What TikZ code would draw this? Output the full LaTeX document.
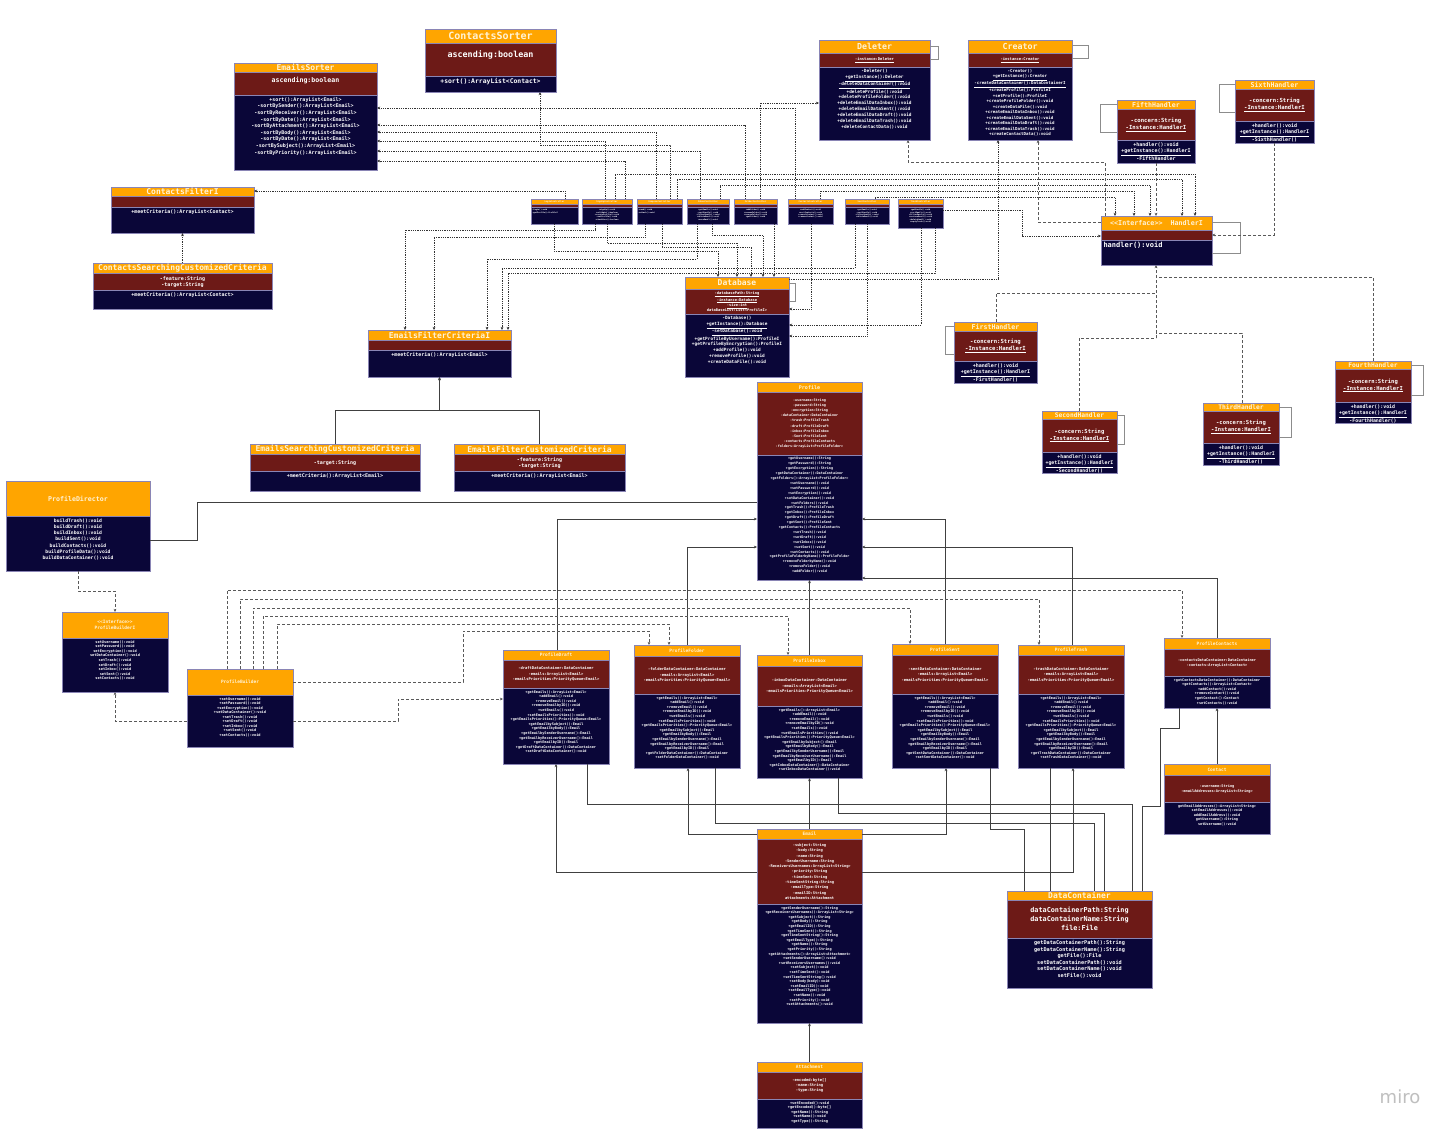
\documentclass[tikz,border=0pt]{standalone}
\usepackage{fontspec}
\setmainfont{DejaVu Sans Mono}
\newfontfamily\mirofont{DejaVu Sans}
\usetikzlibrary{arrows.meta}
\definecolor{hdr}{HTML}{FFA500}
\definecolor{att}{HTML}{6D1A17}
\definecolor{mth}{HTML}{0A0638}
\definecolor{ttl}{HTML}{FFF3D6}
\definecolor{rim}{HTML}{8A85B5}
\newcommand{\fs}[2]{\fontsize{#1}{#2}\selectfont}
\newcommand{\ttltxt}[5]{\node[ttltext, font=\bfseries\fs{#3}{#4}] (#1) at (#2) {#5};}
\newcommand{\atttxt}[5]{\node[attrtext, font=\bfseries\fs{#3}{#4}] (#1) at (#2) {#5};}
\newcommand{\mthtxt}[5]{\node[bodytext, font=\bfseries\fs{#3}{#4}] (#1) at (#2) {#5};}
\newcommand{\umlclass}[9]{%
  \node[ttlbox, minimum width=#3pt, minimum height=#4pt] (#1) at (#2) {};
  \node[attbox, minimum width=#3pt, minimum height=#5pt] (#1-a) at (#1.south) {};
  \node[mthbox, minimum width=#3pt, minimum height=#6pt] (#1-m) at (#1-a.south) {};
  \ttltxt{#1-tt}{#1.center}#7
  \atttxt{#1-at}{#1-a.center}#8
  \mthtxt{#1-mt}{[yshift=-2pt]#1-m.north}#9
}
\newcommand{\partattrs}[1]{-#1DataContainer:DataContainer\\-emails:ArrayList<Email>\\-emailsPriorities:PriorityQueue<Email>}
\newcommand{\partmeths}[1]{+getEmails():ArrayList<Email>\\+addEmail():void\\+removeEmail():void\\+removeEmailbyID():void\\+setEmails():void\\+setEmailsPriorities():void\\+getEmailsPriorities():PriorityQueue<Email>\\+getEmailbySubject():Email\\+getEmailbyBody():Email\\+getEmailbySenderUsername():Email\\+getEmailbyReceiverUsername():Email\\+getEmailbyID():Email\\+get#1DataContainer():DataContainer\\+set#1DataContainer():void}
\newcommand{\handattrs}{-concern:String\\\underline{-Instance:HandlerI}}
\newcommand{\handmeths}[1]{+handler():void\\\underline{+getInstance():HandlerI}\\-#1}
\begin{document}
\begin{tikzpicture}[
    x=1pt, y=-1pt,
    >={Stealth[length=3.2pt,width=2.8pt]},
    ttlbox/.style={fill=hdr, draw=rim, line width=0.4pt, inner sep=0pt, outer sep=0pt, anchor=north west},
    attbox/.style={fill=att, draw=rim, line width=0.4pt, inner sep=0pt, outer sep=0pt, anchor=north},
    mthbox/.style={fill=mth, draw=rim, line width=0.4pt, inner sep=0pt, outer sep=0pt, anchor=north},
    ttltext/.style={text=ttl, align=center, inner sep=0pt},
    attrtext/.style={text=white, align=center, inner sep=0pt},
    bodytext/.style={text=white, align=center, inner sep=0pt, anchor=north},
    dotc/.style={draw=black!80, densely dotted, line width=0.8pt, ->},
    dashc/.style={draw=black!65, dash pattern=on 3pt off 2pt, line width=0.8pt, ->},
    dashl/.style={draw=black!65, dash pattern=on 3pt off 2pt, line width=0.8pt},
    solc/.style={draw=black!75, line width=0.9pt, ->},
    soll/.style={draw=black!75, line width=0.9pt},
    loopc/.style={draw=black!45, line width=1pt},
]
\fill[white] (0,0) rectangle (1456,1137);
\useasboundingbox (0,0) rectangle (1456,1137);

% sorters, deleter, creator
\umlclass{CSort}{425,29}{131}{14}{33}{16}{{10}{12}{ContactsSorter}}{{8.4}{10}{ascending:boolean\\\mbox{}}}{{6.4}{8}{+sort():ArrayList<Contact>}}
\umlclass{ESort}{234,63}{143}{9}{23}{75}{{8}{9}{EmailsSorter}}{{6.6}{8}{ascending:boolean\\\mbox{}}}{{5}{6.6}{+sort():ArrayList<Email>\\-sortBySender():ArrayList<Email>\\-sortByReceiver():ArrayList<Email>\\-sortByDate():ArrayList<Email>\\-sortByAttachment():ArrayList<Email>\\-sortByBody():ArrayList<Email>\\-sortByDate():ArrayList<Email>\\-sortBySubject():ArrayList<Email>\\-sortByPriority():ArrayList<Email>}}
\umlclass{Del}{819,40}{111}{13}{14}{73}{{8.3}{10}{Deleter}}{{3.8}{5}{\underline{-instance:Deleter}}}{{4.4}{5.9}{-Deleter()\\\underline{+getInstance():Deleter}\\\underline{-deleteDataContainer():void}\\+deleteProfile():void\\+deleteProfileFolder():void\\+deleteEmailDataInbox():void\\+deleteEmailDataSent():void\\+deleteEmailDataDraft():void\\+deleteEmailDataTrash():void\\+deleteContactData():void}}
\umlclass{Cre}{968,40}{104}{13}{14}{73}{{8.3}{10}{Creator}}{{3.8}{5}{\underline{-instance:Creator}}}{{4.1}{5.5}{-Creator()\\\underline{+getInstance():Creator}\\\underline{-createDataContainer():DataContainerI}\\+createProfile():ProfileI\\+setProfile():ProfileI\\+createProfileFolder():void\\+createDataFile():void\\+createEmailDataInbox():void\\+createEmailDataSent():void\\+createEmailDataDraft():void\\+createEmailDataTrash():void\\+createContactData():void}}

% handlers
\umlclass{H5}{1117,100}{78}{9}{31}{23}{{6.6}{8}{FifthHandler}}{{5.6}{7}{\handattrs}}{{5}{6.5}{\handmeths{FifthHandler}}}
\umlclass{H6}{1235,80}{79}{9}{32}{22}{{6.6}{8}{SixthHandler}}{{5.6}{7}{\handattrs}}{{5}{6.5}{\handmeths{SixthHandler()}}}
\umlclass{HI}{1101,216}{111}{14}{10}{25}{{6.7}{8}{<{}<Interface>{}>\hspace{8pt}HandlerI}}{{5}{6}{}}{{7}{8}{\makebox[106pt][l]{handler():void}}}
\umlclass{H1}{954,322}{83}{9}{30}{22}{{6.6}{8}{FirstHandler}}{{5.6}{7}{\handattrs}}{{5}{6.5}{\handmeths{FirstHandler()}}}
\umlclass{H2}{1042,411}{75}{8}{33}{21}{{6.3}{8}{SecondHandler}}{{5.5}{7}{\handattrs}}{{4.9}{6.3}{\handmeths{SecondHandler()}}}
\umlclass{H3}{1203,403}{76}{8}{32}{22}{{6.3}{8}{ThirdHandler}}{{5.5}{7}{\handattrs}}{{4.9}{6.3}{\handmeths{ThirdHandler()}}}
\umlclass{H4}{1335,361}{76}{8}{33}{21}{{6.3}{8}{FourthHandler}}{{5.5}{7}{\handattrs}}{{4.9}{6.3}{\handmeths{FourthHandler()}}}

% filters
\umlclass{CFI}{111,187}{143}{9}{11}{26}{{8}{9}{ContactsFilterI}}{{5}{6}{}}{{5}{6}{+meetCriteria():ArrayList<Contact>}}
\umlclass{CSCC}{93,263}{179}{10}{17}{19}{{8}{9}{ContactsSearchingCustomizedCriteria}}{{5}{6}{-feature:String\\-target:String}}{{5}{6}{+meetCriteria():ArrayList<Contact>}}
\umlclass{EFCI}{368,330}{143}{10}{10}{27}{{8}{9}{EmailsFilterCriteriaI}}{{5}{6}{}}{{5}{6}{+meetCriteria():ArrayList<Email>}}
\umlclass{ESCC}{250,444}{170}{10}{17}{20}{{8}{9}{EmailsSearchingCustomizedCriteria}}{{5}{6}{-target:String}}{{5}{6}{+meetCriteria():ArrayList<Email>}}
\umlclass{EFCC}{454,444}{171}{10}{17}{20}{{8}{9}{EmailsFilterCustomizedCriteria}}{{5}{6}{-feature:String\\-target:String}}{{5}{6}{+meetCriteria():ArrayList<Email>}}

% database and controllers
\umlclass{DB}{685,277}{104}{12}{25}{63}{{8}{9}{Database}}{{3.7}{5.2}{\underline{-databasePath:String}\\\underline{-instance:Database}\\\underline{-size:int}\\dataBaseList:List<ProfileI>}}{{4.4}{5.9}{-Database()\\\underline{+getInstance():Database}\\\underline{-setDatabase():void}\\+getProfileByUsername():ProfileI\\+getProfileByEncryption():ProfileI\\+addProfile():void\\+removeProfile():void\\+createDataFile():void}}
\umlclass{b1}{531,199}{47}{5}{3}{17}{{2.2}{2.6}{LoginController}}{{2}{2}{}}{{1.9}{2.4}{\makebox[44pt][l]{+login():void}\\\makebox[44pt][l]{+getProfile():ProfileI}}}
\umlclass{b2}{582,199}{50}{5}{3}{17}{{2.2}{2.6}{SignUpController}}{{2}{2}{}}{{1.9}{2.4}{+signUp():void\\+validate():boolean\\+createProfile():void\\+setProfile():void\\+checkUser():boolean}}
\umlclass{b3}{637,199}{45}{5}{3}{17}{{2.2}{2.6}{ComposeController}}{{2}{2}{}}{{1.9}{2.4}{\makebox[42pt][l]{+send():void}\\\makebox[42pt][l]{+attach():void}}}
\umlclass{b4}{687,199}{42}{5}{3}{17}{{2.2}{2.6}{InboxController}}{{2}{2}{}}{{1.9}{2.4}{+getEmails():void\\+sortEmails():void\\+filterEmails():void\\+deleteEmail():void\\+moveEmail():void}}
\umlclass{b5}{734,199}{43}{5}{3}{17}{{2.2}{2.6}{FolderController}}{{2}{2}{}}{{1.9}{2.4}{+addFolder():void\\+renameFolder():void\\+removeFolder():void\\+getFolder():void}}
\umlclass{b6}{788,199}{45}{5}{3}{17}{{2.2}{2.6}{ContactsController}}{{2}{2}{}}{{1.9}{2.4}{+addContact():void\\+sortContacts():void\\+searchContact():void\\+removeContact():void}}
\umlclass{b7}{845,199}{44}{5}{3}{17}{{2.2}{2.6}{SentController}}{{2}{2}{}}{{1.9}{2.4}{+getEmails():void\\+sortEmails():void\\+filterEmails():void\\+deleteEmail():void}}
\umlclass{b8}{898,199}{45}{5}{3}{21}{{2.2}{2.6}{TrashController}}{{2}{2}{}}{{1.9}{2.4}{+getEmails():void\\+sortEmails():void\\+filterEmails():void\\+restoreEmail():void\\+deleteEmail():void\\+emptyTrash():void}}

% profile and builders
\umlclass{Prof}{757,382}{105}{10}{63}{125}{{5}{6}{Profile}}{{3.4}{5.2}{-username:String\\-password:String\\-encryption:String\\-dataContainer:DataContainer\\-trash:ProfileTrash\\-draft:ProfileDraft\\-inbox:ProfileInbox\\-Sent:ProfileSent\\-contacts:ProfileContacts\\-folders:ArrayList<ProfileFolder>}}{{3.4}{4.9}{+getUsername():String\\+getPassword():String\\+getEncryption():String\\+getDataContainer():DataContainer\\+getFolders():ArrayList<ProfileFolder>\\+setUsername():void\\+setPassword():void\\+setEncryption():void\\+setDataContainer():void\\+setFolders():void\\+getTrash():ProfileTrash\\+getInbox():ProfileInbox\\+getDraft():ProfileDraft\\+getSent():ProfileSent\\+getContacts():ProfileContacts\\+setTrash():void\\+setDraft():void\\+setInbox():void\\+setSent():void\\+setContacts():void\\+getProfileFolderbyName():ProfileFolder\\+removeFolderbyName():void\\+removeFolder():void\\+addFolder():void}}
\umlclass{PDir}{6,481}{144}{35}{0}{55}{{6.6}{8}{ProfileDirector}}{{4}{5}{}}{{4.7}{6.3}{buildTrash():void\\buildDraft():void\\buildInbox():void\\buildSent():void\\buildContacts():void\\buildProfileData():void\\buildDataContainer():void}}
\umlclass{PBI}{62,612}{106}{26}{0}{54}{{4.5}{6}{<{}<Interface>{}>\\ProfileBuilderI}}{{4}{5}{}}{{3.6}{4.6}{setUsername():void\\setPassword():void\\setEncryption():void\\setDataContainer():void\\setTrash():void\\setDraft():void\\setInbox():void\\setSent():void\\setContacts():void}}
\umlclass{PB}{187,669}{106}{26}{0}{52}{{4.5}{6}{ProfileBuilder}}{{4}{5}{}}{{3.6}{4.5}{+setUsername():void\\+setPassword():void\\+setEncryption():void\\+setDataContainer():void\\+setTrash():void\\+setDraft():void\\+setInbox():void\\+setSent():void\\+setContacts():void}}
\umlclass{PDraft}{503,650}{106}{10}{28}{76}{{4.5}{6}{ProfileDraft}}{{3.8}{5.4}{\partattrs{draft}}}{{3.5}{4.6}{\partmeths{Draft}}}
\umlclass{PFold}{634,645}{106}{11}{38}{74}{{4.5}{6}{ProfileFolder}}{{3.8}{5.4}{\partattrs{folder}}}{{3.5}{4.6}{\partmeths{Folder}}}
\umlclass{PInb}{757,655}{105}{11}{40}{72}{{4.5}{6}{ProfileInbox}}{{3.8}{5.4}{\partattrs{inbox}}}{{3.5}{4.6}{\partmeths{Inbox}}}
\umlclass{PSent}{892,644}{106}{11}{39}{74}{{4.5}{6}{ProfileSent}}{{3.8}{5.4}{\partattrs{sent}}}{{3.5}{4.6}{\partmeths{Sent}}}
\umlclass{PTrash}{1018,645}{106}{10}{39}{74}{{4.5}{6}{ProfileTrash}}{{3.8}{5.4}{\partattrs{trash}}}{{3.5}{4.6}{\partmeths{Trash}}}
\umlclass{PCont}{1164,638}{106}{11}{27}{32}{{4.5}{6}{ProfileContacts}}{{3.6}{5}{-contactsDataContainer:DataContainer\\-contacts:ArrayList<Contact>}}{{3.5}{4.6}{+getContactsDataContainer():DataContainer\\+getContacts():ArrayList<Contact>\\+addContact():void\\+removeContact():void\\+getContact():Contact\\+setContacts():void}}
\umlclass{Cont}{1164,764}{106}{11}{27}{32}{{4.5}{6}{Contact}}{{3.6}{5}{-username:String\\-emailAddresses:ArrayList<String>}}{{3.5}{4.6}{getEmailAddresses():ArrayList<String>\\setEmailAddresses():void\\addEmailAddress():void\\getUsername():String\\setUsername():void}}

% email, attachment, data container
\umlclass{Mail}{757,829}{105}{10}{65}{119}{{4.5}{6}{Email}}{{3.7}{5.3}{-subject:String\\-body:String\\-name:String\\-SenderUsername:String\\-ReceiversUsernames:ArrayList<String>\\-priority:String\\-timeSent:String\\-timeSentString:String\\-emailType:String\\-emailID:String\\attachments:Attachment}}{{3.5}{4.6}{+getSenderUsername():String\\+getReceiversUsernames():ArrayList<String>\\+getSubject():String\\+getBody():String\\+getEmailID():String\\+getTimeSent():String\\+getTimeSentString():String\\+getEmailType():String\\+getName():String\\+getPriority():String\\+getAttachments():ArrayList<Attachment>\\+setSenderUsername():void\\+setReceiversUsernames():void\\+setSubject():void\\+setTimeSent():void\\+setTimeSentString():void\\+setBody(body):void\\+setEmailID():void\\+setEmailType():void\\+setName():void\\+setPriority():void\\+setAttachments():void}}
\umlclass{DC}{1007,891}{145}{9}{38}{50}{{8}{9}{DataContainer}}{{6.8}{9}{dataContainerPath:String\\dataContainerName:String\\file:File}}{{5.2}{6.6}{getDataContainerPath():String\\getDataContainerName():String\\getFile():File\\setDataContainerPath():void\\setDataContainerName():void\\setFile():void}}
\umlclass{Att}{757,1062}{105}{10}{27}{29}{{4.5}{6}{Attachment}}{{3.8}{5}{-encoded:byte[]\\-name:String\\-type:String}}{{3.6}{4.6}{+setEncoded():void\\+getEncoded():byte[]\\+getName():String\\+setName():void\\+getType():String}}

% self loops
\draw[loopc] (Del.east |- 0,47) -- ++(8,0) |- (Del-a.east |- 0,60);
\draw[loopc] (Cre.east |- 0,46) -- ++(16,0) |- (Cre-a.east |- 0,59);
\draw[loopc] (H5.west |- 0,105) -- ++(-17,0) |- (H5-a.west |- 0,133);
\draw[loopc] (H6.west |- 0,85) -- ++(-16,0) |- (H6-a.west |- 0,113);
\draw[loopc] (HI.east |- 0,222) -- ++(28,0) |- (HI-m.east |- 0,253);
\draw[loopc] (H1.west |- 0,326) -- ++(-9,0) |- (H1-a.west |- 0,354);
\draw[loopc] (H2.east |- 0,415) -- ++(7,0) |- (H2-a.east |- 0,444);
\draw[loopc] (H3.east |- 0,407) -- ++(12,0) |- (H3-a.east |- 0,437);
\draw[loopc] (H4.east |- 0,365) -- ++(12,0) |- (H4-a.east |- 0,395);
\draw[loopc] (DB.east |- 0,283) -- ++(6,0) |- (DB-a.east |- 0,301);

% controllers to sorters, filters, deleter
\draw[dotc] (b6.north -| 795,0) |- (ESort-m.east |- 0,108);
\draw[dotc] (b5.north -| 745,0) |- (ESort-m.east |- 0,125);
\draw[dotc] (b3.north -| 656,0) |- (ESort-m.east |- 0,132);
\draw[dotc] (b2.north -| 605,0) |- (ESort-m.east |- 0,141);
\draw[dotc] (b4.north -| 700,0) |- (ESort-m.east |- 0,151);
\draw[dotc] (b2.north -| 625,0) |- (ESort-m.east |- 0,161);
\draw[dotc] (b3.north -| 670,0) |- (540,145) -- (CSort-m.south -| 540,0);
\draw[dotc] (b1.north -| 565,0) |- (CFI.east |- 0,191);
\draw[dotc] (b5.north -| 760,0) |- (Del-m.west |- 0,103);

% controllers to handler interface
\draw[dotc] (b2.north -| 615,0) |- (1195,174) -- (HI.north -| 1195,0);
\draw[dotc] (b3.north -| 677,0) |- (1182,179) -- (HI.north -| 1182,0);
\draw[dotc] (b4.north -| 720,0) |- (1150,185) -- (HI.north -| 1150,0);
\draw[dotc] (b6.north -| 820,0) |- (1134,191) -- (HI.north -| 1134,0);
\draw[dotc] (b7.north -| 875,0) |- (1115,197) -- (HI.north -| 1115,0);
\draw[dotc] (b8-m.east |- 0,210) -| (1022,236) -- (HI-a.west |- 0,236);

% controllers to database
\draw[dotc] (b1-m.south -| 554,0) |- (718,251) -- (DB.north -| 718,0);
\draw[dotc] (b2-m.south -| 607,0) |- (737,243) -- (DB.north -| 737,0);
\draw[dotc] (b3-m.south -| 662,0) |- (751,247) -- (DB.north -| 751,0);
\draw[dotc] (b4-m.south -| 712,0) |- (763,235) -- (DB.north -| 763,0);
\draw[dotc] (b5-m.south -| 774,0) -- (DB.north -| 774,0);
\draw[dotc] (b6-m.south -| 811,0) |- (DB-a.east |- 0,309);
\draw[dotc] (b8-m.south -| 921,0) |- (DB-m.east |- 0,325);
\draw[dotc] (b7-m.south -| 867,0) |- (DB-m.east |- 0,336);

% controllers to email filter
\draw[dotc] (b2-m.south -| 595,0) |- (405,230) -- (EFCI.north -| 405,0);
\draw[dotc] (b3-m.south -| 645,0) |- (434,237) -- (EFCI.north -| 434,0);
\draw[dotc] (b4-m.south -| 697,0) |- (487,259) -- (EFCI.north -| 487,0);
\draw[dotc] (b7-m.south -| 855,0) |- (502,268) -- (EFCI.north -| 502,0);
\draw[dotc] (b8-m.south -| 935,0) |- (508,273) -- (EFCI.north -| 508,0);

% creator, deleter, handlers
\draw[dotc] (DB.east |- 0,279) -| (Cre-m.south -| 998,0);
\draw[dashc] (HI.west |- 0,222) -| (Cre-m.south -| 1038,0);
\draw[dashc] (HI.north -| 1105,0) |- (908,162) -- (Del-m.south -| 908,0);
\draw[dashc] (H5-m.south -| 1156,0) -- (HI.north -| 1156,0);
\draw[dashc] (H6-m.south -| 1274,0) |- (HI-a.east |- 0,235);
\coordinate (hb0) at (1156,277);
\coordinate (hb1) at (1156,293);
\coordinate (hb2) at (1156,333);
\coordinate (hb3) at (1156,338);
\draw[dashc] (hb3) -- (HI-m.south -| 1156,0);
\draw[dashl] (H4.north -| 1373,0) |- (hb0);
\draw[dashl] (H1.north -| 996,0) |- (hb1);
\draw[dashl] (H3.north -| 1242,0) |- (hb2);
\draw[dashl] (H2.north -| 1079,0) |- (hb3);

% filter hierarchy
\draw[dotc] (CSCC.north) -- (CFI-m.south);
\draw[solc] (ESCC.north) |- (EFCI-m.south |- 0,410) -- (EFCI-m.south);
\draw[solc] (EFCC.north) |- (EFCI-m.south |- 0,410) -- (EFCI-m.south);

% profile parts
\draw[soll] (PDir-m.east |- 0,540) -| (197,502) -- (Prof-m.west |- 0,502);
\draw[solc] (PDraft.north -| 557,0) |- (Prof-m.west |- 0,519);
\draw[solc] (PFold.north -| 687,0) |- (Prof-m.west |- 0,547);
\draw[solc] (PSent.north -| 945,0) |- (Prof-m.east |- 0,519);
\draw[solc] (PTrash.north -| 1072,0) |- (Prof-m.east |- 0,547);
\draw[solc] (PCont.north -| 1217,0) |- (Prof-m.east |- 0,578);
\draw[solc] (PInb.north) -- (Prof-m.south);

% builder
\draw[dashc] (PB.north -| 227,0) |- (1182,590) -- (PCont.north -| 1182,0);
\draw[dashc] (PB.north -| 240,0) |- (1039,599) -- (PTrash.north -| 1039,0);
\draw[dashc] (PB.north -| 253,0) |- (910,608) -- (PSent.north -| 910,0);
\draw[dashc] (PB.north -| 263,0) |- (788,616) -- (PInb.north -| 788,0);
\draw[dashc] (PB.north -| 277,0) |- (669,624) -- (PFold.north -| 669,0);
\draw[dashc] (PB.east |- 0,682) -| (463,631) -| (PFold.north -| 649,0);
\draw[dashc] (PB-m.east |- 0,721) -| (398,699) -- (PDraft-m.west |- 0,699);
\draw[dashc] (PB-m.west |- 0,721) -| (PBI-m.south -| 115,0);
\draw[dashc] (PDir-m.south -| 78,0) |- (115,591) -- (PBI.north -| 115,0);

% email and data container
\draw[solc] (Mail-a.west |- 0,872) -| (PDraft-m.south -| 556,0);
\draw[solc] (Mail.west |- 0,834) -| (PFold-m.south -| 688,0);
\draw[solc] (Mail.north) -- (PInb-m.south);
\draw[solc] (Mail.east |- 0,834) -| (PSent-m.south -| 946,0);
\draw[solc] (Mail-a.east |- 0,872) -| (PTrash-m.south -| 1073,0);
\draw[soll] (PDraft-m.south -| 587,0) |- (1132,804) -- (DC.north -| 1132,0);
\draw[soll] (PFold-m.south -| 715,0) |- (1094,823) -- (DC.north -| 1094,0);
\draw[soll] (PInb-m.south -| 838,0) |- (1104,813) -- (DC.north -| 1104,0);
\draw[soll] (PSent-m.south -| 990,0) |- (1024,829) -- (DC.north -| 1024,0);
\draw[soll] (PTrash-m.south -| 1050,0) -- (DC.north -| 1050,0);
\draw[soll] (PCont-m.south -| 1179,0) |- (1160,728) |- (1142,806) -- (DC.north -| 1142,0);
\draw[solc] (Cont.north) -- (PCont-m.south);
\draw[solc] (Att.north) -- (Mail-m.south);

\node[text=black!25, font=\mirofont\fontsize{18}{20}\selectfont] (miro) at (1400,1097) {miro};
\end{tikzpicture}
\end{document}
